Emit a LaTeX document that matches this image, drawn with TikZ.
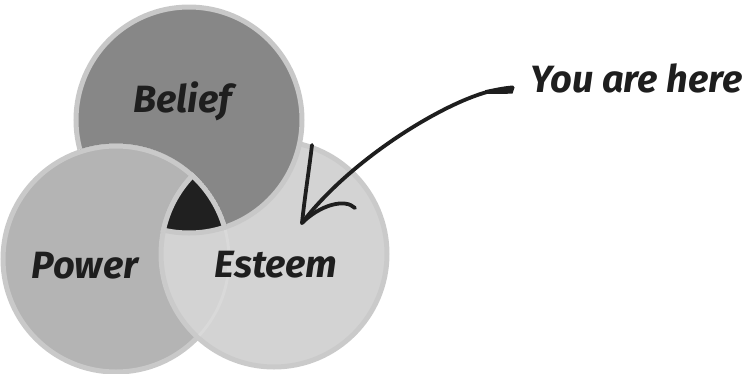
\documentclass[tikz,border=0pt]{standalone}
\usepackage{fontspec}
\setmainfont{Fira Sans}
\definecolor{beliefc}{HTML}{878787}
\definecolor{beliefb}{HTML}{C8C8C8}
\definecolor{powerc}{HTML}{B4B4B4}
\definecolor{powerb}{HTML}{C9C9C9}
\definecolor{esteemc}{HTML}{D3D3D3}
\definecolor{esteemb}{HTML}{CACACA}
\definecolor{faintb}{HTML}{D9D9D9}
\definecolor{tripc}{HTML}{202020}
\definecolor{inkc}{HTML}{1E1E1E}
\begin{document}
\begin{tikzpicture}[x=1pt,y=-1pt,
  beliefst/.style={fill=beliefc,draw=beliefb,line width=5pt},
  powerst/.style={fill=powerc,draw=powerb,line width=5pt},
  esteemst/.style={fill=esteemc,draw=esteemb,line width=5pt},
  lbl/.style={font=\fontsize{38}{40}\selectfont\bfseries\itshape,text=inkc,inner sep=0pt,anchor=base},
  ink/.style={draw=inkc,line width=3.8pt,line cap=round,line join=round}]
\useasboundingbox (0,0) rectangle (753,373);
\coordinate (B) at (189,120);
\coordinate (P) at (116,259);
\coordinate (E) at (274,254);
\def\R{113pt}
\def\Rb{115.5pt}
% power, then esteem over it
\path[powerst] (P) circle[radius=\R];
\path[esteemst] (E) circle[radius=\R];
% faint power edge seen through esteem
\begin{scope}
  \clip (E) circle[radius=110.5pt];
  \draw[draw=faintb,line width=3pt] (P) circle[radius=\R];
\end{scope}
% belief over esteem, under power
\begin{scope}[even odd rule]
  \clip (-10,-10) rectangle (763,383) (P) circle[radius=\Rb];
  \path[beliefst] (B) circle[radius=\R];
\end{scope}
% triple intersection
\begin{scope}
  \clip (B) circle[radius=\R];
  \clip (P) circle[radius=\R];
  \clip (E) circle[radius=\R];
  \fill[tripc] (0,0) rectangle (400,373);
\end{scope}
\begin{scope}
  \clip (B) circle[radius=\Rb];
  \clip (P) circle[radius=\Rb];
  \clip (E) circle[radius=\Rb];
  \draw[draw=beliefb,line width=5pt] (B) circle[radius=\R];
  \draw[draw=powerb,line width=5pt] (P) circle[radius=\R];
  \draw[draw=esteemb,line width=5pt] (E) circle[radius=\R];
\end{scope}
% labels
\node[lbl] (belief) at (182.5,112) {Belief};
\node[lbl] (power) at (85,278) {Power};
\node[lbl] (esteem) at (276,277) {Esteem};
\node[lbl] (here) at (636.5,92) {You are here};
% arrow
\coordinate (s) at (487,92);
\coordinate (t) at (302,223);
\coordinate (b1) at (312,145);
\coordinate (b2) at (355,208);
\fill[inkc] (485,90.2) .. controls (495,88) and (505,86) .. (513,85.5)
  -- (514.5,87.5) -- (512.5,93.5) .. controls (505,94) and (495,94) .. (485,93.9) -- cycle;
\draw[ink] (s) .. controls (440,105) and (350,160) .. (t);
\draw[ink] (t) .. controls (305,195) and (309,170) .. (b1);
\draw[ink] (t) .. controls (320,205) and (345,198) .. (b2);
\end{tikzpicture}
\end{document}
